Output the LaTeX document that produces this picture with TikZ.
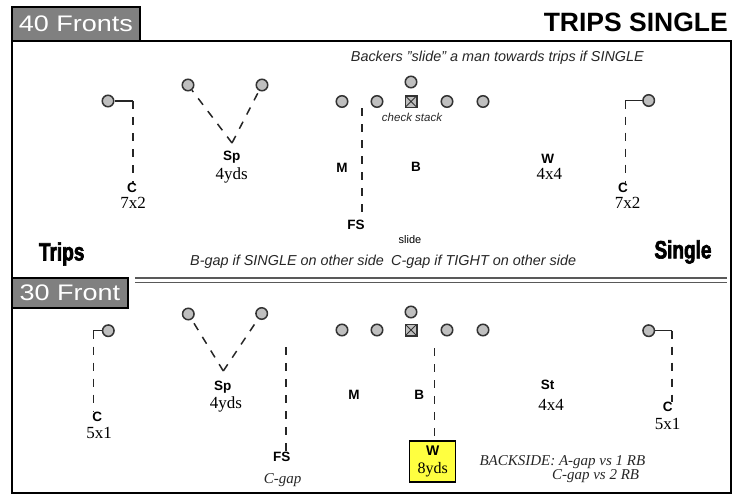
\documentclass[tikz,border=0pt]{standalone}
\usepackage{fontspec}
\setmainfont{Liberation Sans}
\newfontfamily\numfont{Liberation Serif}
\newfontfamily\tabfont[FakeStretch=1.2]{Liberation Sans}
\newfontfamily\sidefont[FakeStretch=0.76,FakeBold=2.5]{Liberation Sans}
\usepackage{tikz}
\definecolor{boxyellow}{HTML}{FFFF40}
\tikzstyle{player}=[circle, draw=black!80, fill=black!25, line width=1.5pt, minimum size=11.5pt, inner sep=0pt]
\tikzstyle{ctr}=[player, rectangle, path picture={\draw[line width=0.9pt] (path picture bounding box.south west) -- (path picture bounding box.north east) (path picture bounding box.north west) -- (path picture bounding box.south east);}]
\tikzstyle{dlabel}=[inner sep=0pt, font=\fontsize{13.5}{14}\selectfont\bfseries]
\tikzstyle{depth}=[inner sep=0pt, font=\numfont\fontsize{17}{18}\selectfont]
\tikzstyle{note}=[inner sep=0pt, text=black!85, font=\fontsize{14.4}{16}\selectfont\itshape]
\tikzstyle{snote}=[inner sep=0pt, text=black!85, font=\numfont\fontsize{15}{16}\selectfont\itshape]
\tikzstyle{route}=[line width=1.5pt, draw=black!85, dash pattern=on 8pt off 8pt]
\tikzstyle{arm}=[line width=1.5pt, draw=black!85]
\tikzstyle{tab}=[draw=black, line width=2pt, fill=black!50, text=white, outer sep=0pt, font=\tabfont\fontsize{22.5}{24}\selectfont]
\tikzstyle{frame}=[line width=2pt, draw=black]
\tikzstyle{side}=[inner sep=0pt, font=\sidefont\bfseries\fontsize{25}{26}\selectfont]
\begin{document}
\begin{tikzpicture}[x=1pt, y=-1pt]
    \useasboundingbox (0,0) rectangle (736,496);

    % frame and tabs
    \node[tab, minimum width=128pt, minimum height=34pt] (tabA) at (76,24) {40 Fronts};
    \draw[frame] (tabA.south east) -- (731,41) -- (731,493) -- (12,493) -- (tabA.south west);
    \node[tab, minimum width=116pt, minimum height=30pt] (tabB) at (70,293) {30 Front};
    \draw[double, double distance=3pt, draw=black!65, line width=1.1pt] (135,280) -- (727,280);
    \node[anchor=east, inner sep=0pt, font=\bfseries\fontsize{26.5}{28}\selectfont] (title) at (728,22) {TRIPS SINGLE};

    % 40 fronts
    \node[note, anchor=east] (slideA) at (644,58) {Backers \symbol{34}slide\symbol{34} a man towards trips if SINGLE};
    \node[player] (wrLA) at (108,101) {};
    \coordinate (kLA) at (133,101);
    \node[dlabel] (cLA) at (132,188) {C};
    \node[depth] (cLAd) at (133,203) {7x2};
    \draw[arm] (wrLA) -- (kLA);
    \draw[route] (kLA) -- (kLA |- cLA.north);

    \node[player] (s1A) at (188,85) {};
    \node[player] (s2A) at (262,85) {};
    \coordinate (vA) at (232,143);
    \draw[route] (vA) -- (s1A);
    \draw[route] (vA) -- (s2A);
    \node[dlabel] (spA) at (231.7,157) {Sp};
    \node[depth] (spAd) at (231.7,175) {4yds};

    \node[player] (ltA) at (342,101.5) {};
    \node[player] (lgA) at (377,101.5) {};
    \node[ctr] (cnA) at (411,101.5) {};
    \node[player] (rgA) at (447,101.5) {};
    \node[player] (rtA) at (483,101.5) {};
    \node[player] (qbA) at (411,82) {};
    \node[inner sep=0pt, text=black!85, font=\fontsize{11.5}{12}\selectfont\itshape] (chkA) at (412,117) {check stack};

    \coordinate (fsTopA) at (362,108);
    \node[dlabel] (mA) at (342,168) {M};
    \node[dlabel] (fsA) at (356,225) {FS};
    \draw[route] (fsTopA) -- (fsTopA |- fsA.north);
    \node[dlabel] (bA) at (416,167) {B};
    \node[dlabel] (wA) at (547.7,159) {W};
    \node[depth] (wAd) at (549.3,174) {4x4};

    \node[player] (wrRA) at (648.7,100.5) {};
    \coordinate (kRA) at (625.3,100.5);
    \node[dlabel] (cRA) at (623,188) {C};
    \node[depth] (cRAd) at (627.7,203) {7x2};
    \draw[arm] (wrRA) -- (kRA);
    \draw[route] (kRA) -- (kRA |- cRA.north);

    \node[inner sep=0pt, font=\fontsize{11}{12}\selectfont] (slA) at (410,240) {slide};
    \node[note, anchor=west] (bgA) at (190,261.7) {B-gap if SINGLE on other side};
    \node[note, anchor=west] (cgA) at (391,261.7) {C-gap if TIGHT on other side};
    \node[side] (trips) at (61.7,254) {Trips};
    \node[side] (single) at (683,252) {Single};

    % 30 front
    \node[player] (wrLB) at (108.3,330.7) {};
    \coordinate (kLB) at (93.3,330.7);
    \node[dlabel] (cLB) at (97.3,416.7) {C};
    \node[depth] (cLBd) at (99,432.7) {5x1};
    \draw[arm] (wrLB) -- (kLB);
    \draw[route] (kLB) -- (kLB |- cLB.north);

    \node[player] (s1B) at (188.3,314) {};
    \node[player] (s2B) at (261.7,313.5) {};
    \coordinate (vB) at (223.3,371);
    \draw[route] (vB) -- (s1B);
    \draw[route] (vB) -- (s2B);
    \node[dlabel] (spB) at (222.7,386.7) {Sp};
    \node[depth] (spBd) at (226,404.3) {4yds};

    \node[player] (ltB) at (342,330) {};
    \node[player] (lgB) at (377,330) {};
    \node[ctr] (cnB) at (411,330) {};
    \node[player] (rgB) at (447,330) {};
    \node[player] (rtB) at (483,330) {};
    \node[player] (qbB) at (411,312) {};

    \coordinate (fsTopB) at (286,347);
    \node[dlabel] (fsB) at (281.7,456.7) {FS};
    \draw[route] (fsTopB) -- (fsTopB |- fsB.north);
    \node[snote] (fsBg) at (282.7,480) {C-gap};
    \node[dlabel] (mB) at (354,395) {M};
    \node[dlabel] (bB) at (419.3,395) {B};

    \node[draw=black, line width=1.3pt, fill=boxyellow, minimum width=46pt, minimum height=41pt, align=center, inner sep=0pt, font=\fontsize{14}{18.3}\selectfont] (wB) at (432.7,461.5) {{\bfseries W}\\{\numfont\fontsize{16}{18.3}\selectfont 8yds}};
    \coordinate (bTopB) at (434.3,348);
    \draw[route] (bTopB) -- (bTopB |- wB.north);

    \node[dlabel] (stB) at (547.7,385) {St};
    \node[depth] (stBd) at (551,405) {4x4};

    \node[player] (wrRB) at (648.7,330.7) {};
    \coordinate (kRB) at (672,330.7);
    \node[dlabel] (cRB) at (667.7,407.3) {C};
    \node[depth] (cRBd) at (667.7,424) {5x1};
    \draw[arm] (wrRB) -- (kRB);
    \draw[route] (kRB) -- (kRB |- cRB.north);

    \node[snote, anchor=west] (bsB) at (479.3,462.3) {BACKSIDE: A-gap vs 1 RB};
    \node[snote, anchor=east] (bsB2) at (639.3,476.5) {C-gap vs 2 RB};
\end{tikzpicture}
\end{document}
